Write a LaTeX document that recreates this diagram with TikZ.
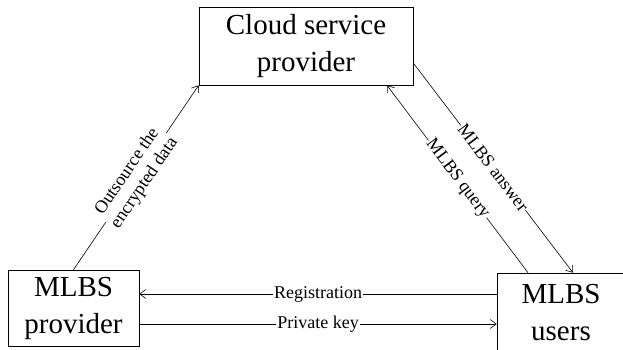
\documentclass[tikz,border=0pt]{standalone}
\usepackage{fontspec}
\setmainfont{Liberation Serif}
\usetikzlibrary{arrows.meta,calc}
\begin{document}
\begin{tikzpicture}[x=1pt,y=-1pt,
  entity/.style={draw,line width=0.6pt,align=center,inner sep=0pt,
    font=\fontsize{29}{37}\selectfont},
  link/.style={line width=0.6pt,-{Straight Barb[length=6pt,width=9pt,line width=0.6pt]}},
  tag/.style={fill=white,inner sep=1pt,font=\fontsize{18}{21}\selectfont,align=center}]
\useasboundingbox (0,0) rectangle (623,350);
% parties
\node[entity,minimum width=214pt,minimum height=78pt] (cloud) at (306,46) {Cloud service\\provider};
\node[entity,minimum width=131pt,minimum height=76pt] (prov) at (73.5,308) {MLBS\\provider};
\node[entity,minimum width=128pt,minimum height=80pt] (users) at (561,313) {MLBS\\users};
% provider -> cloud
\draw[link] (prov.north) -- node[tag,sloped] {Outsource the\\encrypted data} (cloud.south west);
% users <-> cloud
\draw[link] ([xshift=-33pt]users.north) -- node[tag,sloped] {MLBS query} ([xshift=81pt]cloud.south);
\draw[link] ([yshift=-17pt]cloud.east) -- node[tag,sloped] {MLBS answer} ([xshift=12pt]users.north);
% users <-> provider
\draw[link] ([yshift=19pt]users.west) -- node[tag] {Registration} ([yshift=19pt]users.west -| prov.east);
\draw[link] ([yshift=-16pt]prov.east) -- node[tag] {Private key} ([yshift=-16pt]prov.east -| users.west);
\end{tikzpicture}
\end{document}
